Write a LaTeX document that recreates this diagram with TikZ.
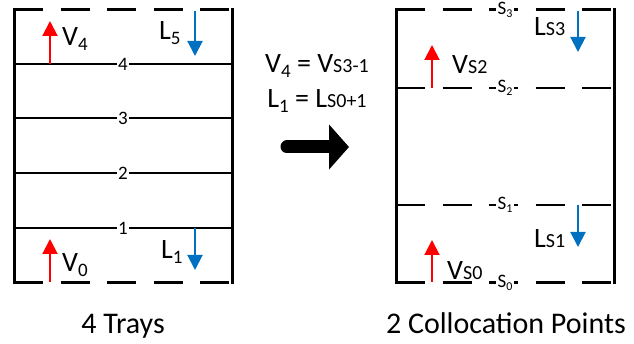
\documentclass[tikz,border=0pt]{standalone}
\usepackage{fontspec}
\setmainfont{Carlito}
\usetikzlibrary{arrows.meta}

\definecolor{vapred}{RGB}{255,0,0}
\definecolor{liqblue}{RGB}{0,112,192}

% lowered and baseline subscripts
\newcommand{\lowsub}[1]{\raisebox{-5pt}{\fontsize{19}{19}\selectfont #1}}
\newcommand{\cpsub}[1]{{\fontsize{20}{20}\selectfont #1}}
\newcommand{\ptsub}[1]{\raisebox{-3pt}{\fontsize{12}{12}\selectfont #1}}

\begin{document}
\begin{tikzpicture}[x=1pt, y=-1pt,
  wall/.style={line width=3pt, line cap=rect},
  edge/.style={line width=3pt, dash pattern=on 29pt off 17.5pt},
  cpline/.style={line width=2pt, dash pattern=on 29pt off 17.5pt},
  tray/.style={line width=1.2pt},
  vap/.style={vapred, line width=2pt, -{Triangle[width=15pt, length=15pt]}},
  liq/.style={liqblue, line width=2pt, -{Triangle[width=15pt, length=15pt]}},
  lbl/.style={font=\fontsize{28}{30}\selectfont, inner sep=0pt, anchor=base west},
  num/.style={font=\fontsize{19}{19}\selectfont, fill=white, inner sep=1pt},
  pt/.style={font=\fontsize{19}{19}\selectfont, fill=white, inner sep=1.5pt},
  caption/.style={font=\fontsize{30}{32}\selectfont, inner sep=0pt, anchor=base}]
\useasboundingbox (0,0) rectangle (634,344);

% trays
\draw[wall] (14,10) -- (14,283);
\draw[wall] (232,10) -- (232,283);
\draw[edge] (14,10) -- (232,10);
\draw[edge] (14,283) -- (232,283);
\foreach \n/\y in {4/64, 3/118, 2/173, 1/228} {
  \draw[tray] (14,\y) -- (232,\y);
  \node[num] (t\n) at (123,\y) {\n};
}

\coordinate (v4a) at (50,64);   \coordinate (v4b) at (50,21);
\coordinate (l5a) at (195,11);  \coordinate (l5b) at (195,56);
\coordinate (v0a) at (50,282);  \coordinate (v0b) at (50,239);
\coordinate (l1a) at (195,228); \coordinate (l1b) at (195,270);
\draw[vap] (v4a) -- (v4b);
\draw[liq] (l5a) -- (l5b);
\draw[vap] (v0a) -- (v0b);
\draw[liq] (l1a) -- (l1b);
\node[lbl] (v4) at (62,46) {V\lowsub{4}};
\node[lbl] (l5) at (159,40) {L\lowsub{5}};
\node[lbl] (v0) at (62,272) {V\lowsub{0}};
\node[lbl] (l1) at (161,259) {L\lowsub{1}};

% collocation points
\draw[wall] (396,10) -- (396,283);
\draw[wall] (614,10) -- (614,283);
\draw[edge] (396,10) -- (614,10);
\draw[edge] (396,283) -- (614,283);
\draw[cpline] (396,88) -- (614,88);
\draw[cpline] (396,205) -- (614,205);
\foreach \n/\y in {3/10, 2/88, 1/205, 0/283}
  \node[pt] (s\n) at (505,\y) {S\ptsub{\n}};

\coordinate (vs2a) at (432,88);  \coordinate (vs2b) at (432,45);
\coordinate (ls3a) at (578,11);  \coordinate (ls3b) at (578,52);
\coordinate (vs0a) at (432,282); \coordinate (vs0b) at (432,240);
\coordinate (ls1a) at (578,205); \coordinate (ls1b) at (578,247);
\draw[vap] (vs2a) -- (vs2b);
\draw[liq] (ls3a) -- (ls3b);
\draw[vap] (vs0a) -- (vs0b);
\draw[liq] (ls1a) -- (ls1b);
\node[lbl] (vs2) at (452,74) {V\cpsub{S2}};
\node[lbl] (ls3) at (534,36) {L\cpsub{S3}};
\node[lbl] (vs0) at (447,280) {V\cpsub{S0}};
\node[lbl] (ls1) at (534,248) {L\cpsub{S1}};

% mapping
\node[lbl, anchor=base] (eqv) at (317,73) {V\lowsub{4} = V\cpsub{S3-1}};
\node[lbl, anchor=base] (eql) at (317,108) {L\lowsub{1} = L\cpsub{S0+1}};
\coordinate (ba) at (287,147); \coordinate (bb) at (349,147);
\draw[line width=13pt, line cap=round, -{Triangle[width=44pt, length=20pt]}] (ba) -- (bb);

% captions
\node[caption] (trays) at (123,334) {4 Trays};
\node[caption] (colloc) at (506,334) {2 Collocation Points};
\end{tikzpicture}
\end{document}
